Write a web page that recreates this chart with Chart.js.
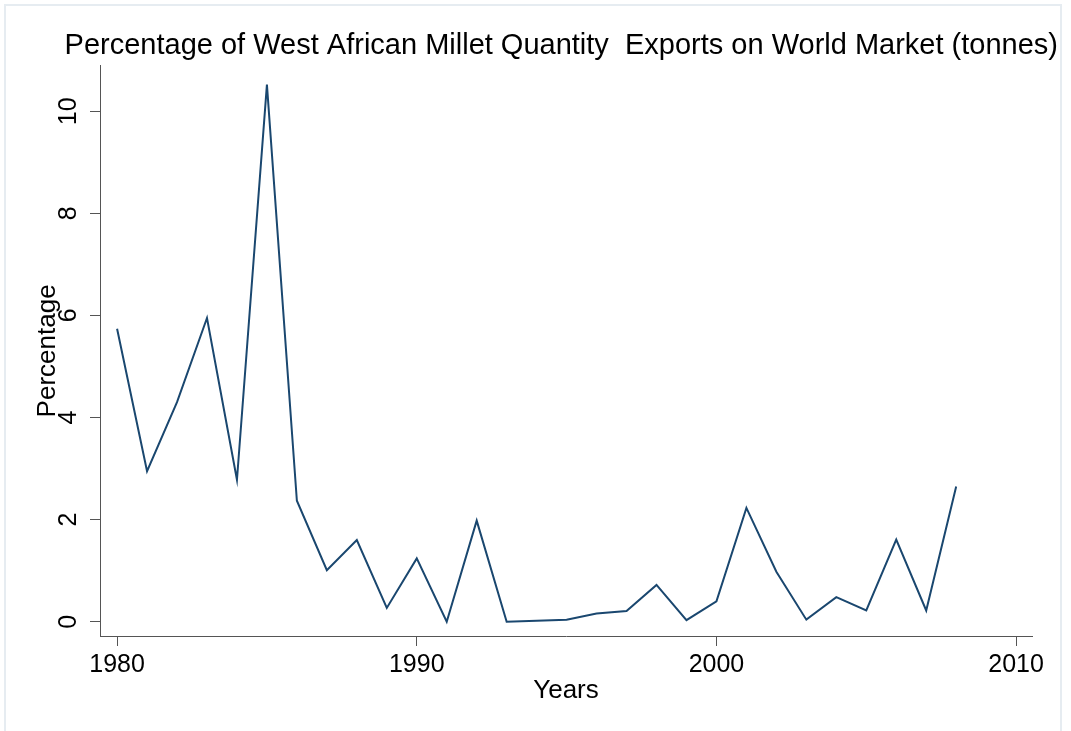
<!DOCTYPE html>
<html>
<head>
<meta charset="utf-8">
<script src="https://cdn.jsdelivr.net/npm/chart.js@4/dist/chart.umd.min.js"></script>
<style>
  html, body { margin: 0; padding: 0; background: #fff; }
  #wrap { position: relative; width: 1071px; height: 731px; overflow: hidden; }
  #frame { position: absolute; left: 4px; top: 4px; width: 1054px; height: 740px; border: 2px solid #e6ecf1; }
  #chart { position: absolute; left: 0; top: 0; }
</style>
</head>
<body>
<div id="wrap">
  <div id="frame"></div>
  <canvas id="chart" width="1071" height="731"></canvas>
</div>
<script>
const years = [1980, 1981, 1982, 1983, 1984, 1985, 1986, 1987, 1988, 1989,
  1990, 1991, 1992, 1993, 1994, 1995, 1996, 1997, 1998, 1999,
  2000, 2001, 2002, 2003, 2004, 2005, 2006, 2007, 2008];
const percentage = [5.74, 2.95, 4.30, 5.95, 2.78, 10.52, 2.37, 1.01, 1.60, 0.27,
  1.24, 0.00, 1.98, 0.00, 0.02, 0.04, 0.16, 0.21, 0.72, 0.03,
  0.40, 2.23, 0.98, 0.04, 0.48, 0.22, 1.61, 0.22, 2.65];
const xTicks = [1980, 1990, 2000, 2010];
const yTicks = [0, 2, 4, 6, 8, 10];

const titleText = "Percentage of West African Millet Quantity  Exports on World Market (tonnes)";
const FONT = "'Liberation Sans', Arial, sans-serif";
const AXIS_COLOR = "#555555";

const points = years.map((yr, i) => ({ x: yr, y: percentage[i] }));

new Chart(document.getElementById("chart"), {
  type: "line",
  data: {
    datasets: [{
      data: points,
      borderColor: "#1a476f",
      borderWidth: 2,
      pointRadius: 0,
      tension: 0,
      fill: false,
    }],
  },
  options: {
    responsive: false,
    animation: false,
    devicePixelRatio: 1,
    layout: { padding: { left: 20, right: 13, top: 0, bottom: 0 } },
    plugins: {
      legend: { display: false },
      tooltip: { enabled: false },
      title: {
        display: true,
        fullSize: true,
        align: "end",
        text: titleText,
        color: "#000",
        font: { family: FONT, size: 29, weight: "normal" },
        padding: { top: 29, bottom: 2 },
      },
    },
    scales: {
      x: {
        type: "linear",
        min: 1979.43,
        max: 2010.53,
        afterBuildTicks: (s) => { s.ticks = xTicks.map(v => ({ value: v })); },
        afterFit: (s) => { s.height = 95; },
        grid: { drawOnChartArea: false, drawTicks: true, tickLength: 10, color: AXIS_COLOR },
        border: { display: true, color: AXIS_COLOR, width: 1 },
        ticks: {
          color: "#000",
          padding: 4,
          maxRotation: 0,
          font: { family: FONT, size: 25 },
          callback: (v) => String(v),
        },
        title: {
          display: true,
          text: "Years",
          color: "#000",
          font: { family: FONT, size: 26 },
          padding: { top: 0, bottom: 25 },
        },
      },
      y: {
        min: -0.28,
        max: 10.89,
        afterBuildTicks: (s) => { s.ticks = yTicks.map(v => ({ value: v })); },
        afterFit: (s) => { s.width = 80; },
        grid: { drawOnChartArea: false, drawTicks: true, tickLength: 10, color: AXIS_COLOR },
        border: { display: true, color: AXIS_COLOR, width: 1 },
        ticks: {
          color: "#000",
          padding: 7,
          minRotation: 90,
          maxRotation: 90,
          crossAlign: "center",
          font: { family: FONT, size: 25 },
          callback: (v) => String(v),
        },
        title: {
          display: true,
          text: "Percentage",
          color: "#000",
          font: { family: FONT, size: 26 },
          padding: { top: 12, bottom: 0 },
        },
      },
      // empty right-hand spacer so the plot ends before the title does
      spacer: {
        type: "linear",
        position: "right",
        display: true,
        afterFit: (s) => { s.width = 26; },
        grid: { display: false },
        border: { display: false },
        ticks: { display: false },
      },
    },
  },
});
</script>
</body>
</html>
